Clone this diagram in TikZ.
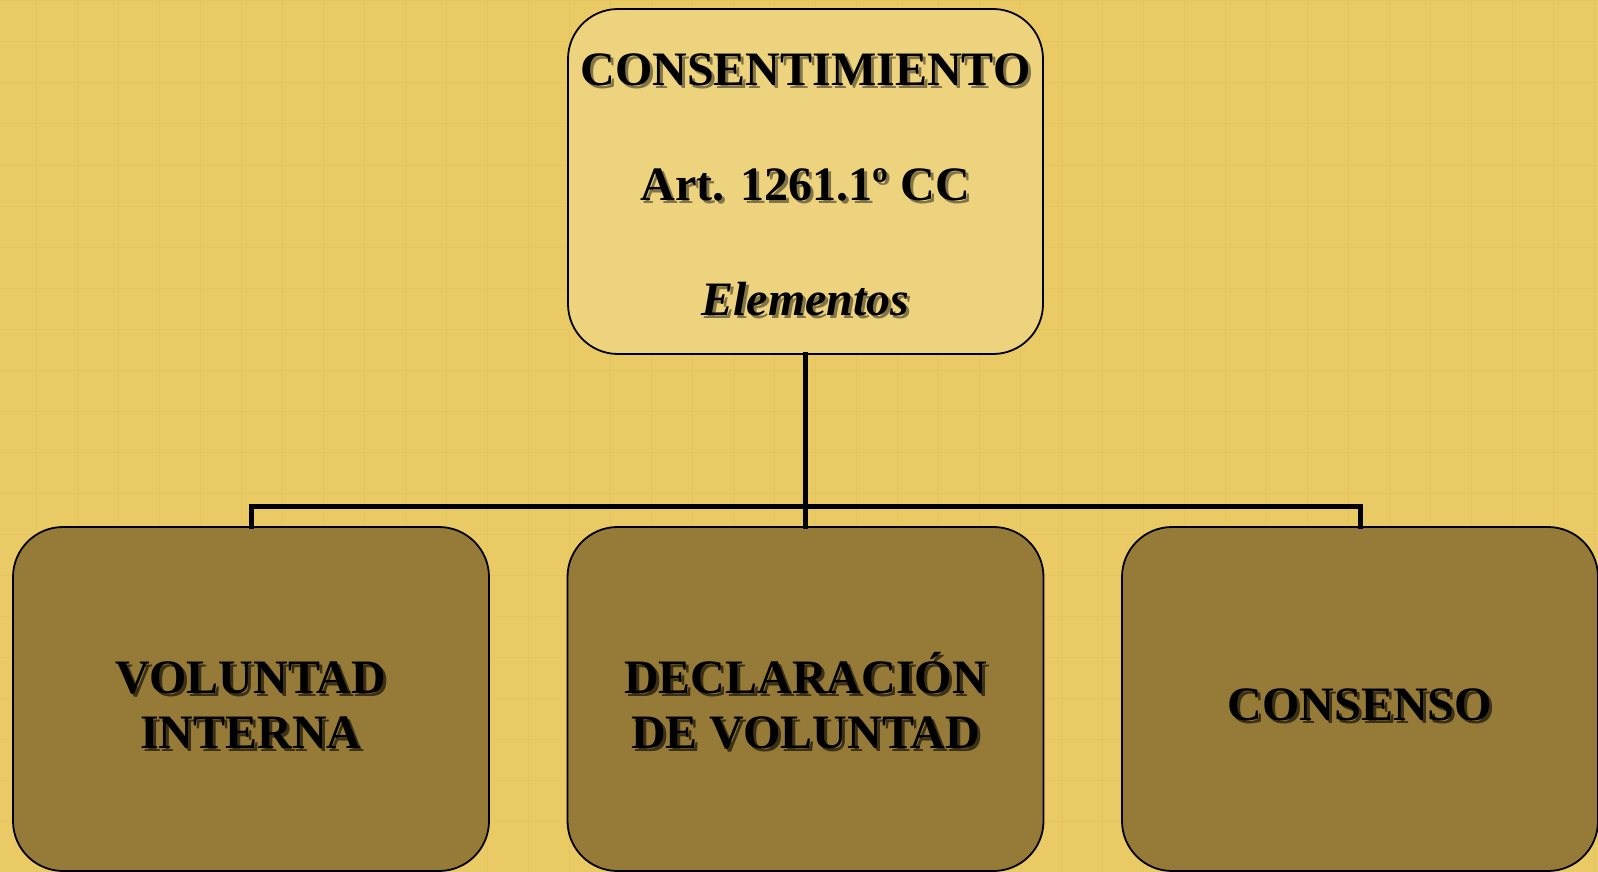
\documentclass[tikz,border=0pt]{standalone}
\usepackage{fontspec}
\setmainfont{Liberation Serif}
\definecolor{bgcol}{HTML}{E9CA65}
\definecolor{gridcol}{HTML}{E5C55E}
\definecolor{topfill}{HTML}{EDD37D}
\definecolor{botfill}{HTML}{957A38}
\colorlet{shadowcol}{black!50}
\newcommand\shd[1]{\leavevmode\rlap{\hspace{3pt}\raisebox{-3pt}{\textcolor{shadowcol}{#1}}}#1}
\tikzset{
  box/.style={draw=black, line width=1.8pt, rounded corners=50pt, align=center, inner sep=0pt, text depth=0pt},
  topbox/.style={box, fill=topfill, minimum width=475pt, minimum height=345pt, text height=267pt,
    font={\colorlet{shadowcol}{black!45!topfill}\fontsize{48}{115}\selectfont\bfseries}},
  botbox/.style={box, fill=botfill, minimum width=476pt, minimum height=344pt, text height=98pt,
    font={\colorlet{shadowcol}{black!60!botfill}\fontsize{48}{55}\selectfont\bfseries}},
  conn/.style={line width=5pt, line cap=rect}
}
\begin{document}
\begin{tikzpicture}[x=1pt,y=-1pt]
\useasboundingbox (0,0) rectangle (1598,872);
\fill[bgcol] (0,0) rectangle (1598,872);
\foreach \i in {0,...,38} {
  \draw[gridcol, line width=1pt] ({36+41*\i},0) -- ({36+41*\i},872);
}
\foreach \j in {0,...,20} {
  \draw[gridcol, line width=1pt] (0,{1+41*\j}) -- (1598,{1+41*\j});
}
\node[topbox] (top) at (805.5,181.5) {\shd{CONSENTIMIENTO}\\\shd{Art. 1261.1º CC}\\\shd{\itshape Elementos}};
\node[botbox] (left) at (251,699) {\shd{VOLUNTAD}\\\shd{INTERNA}};
\node[botbox] (mid) at (805.5,699) {\shd{DECLARACIÓN}\\\shd{DE VOLUNTAD}};
\node[botbox, text height=42pt] (right) at (1360,699) {\shd{CONSENSO}};
\coordinate (bus) at (805.5,506);
\draw[conn] (top.south) -- (mid.north);
\draw[conn] (left.north) |- (bus) -| (right.north);
\end{tikzpicture}
\end{document}
